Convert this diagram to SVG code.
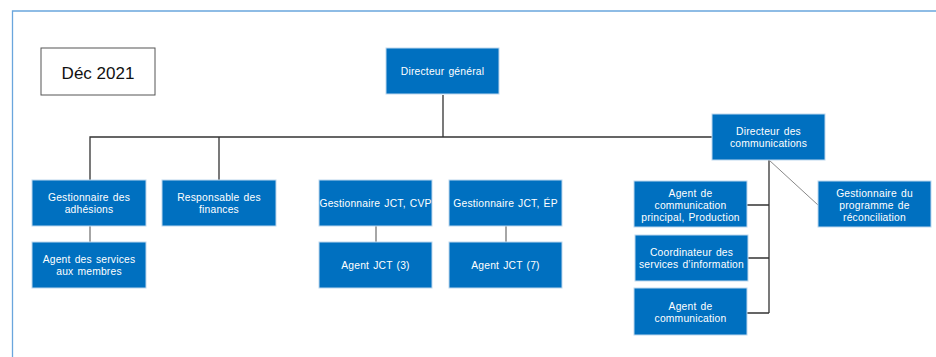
<svg xmlns="http://www.w3.org/2000/svg" width="936" height="357" viewBox="0 0 936 357">
<style>
.box{fill:#0070c0;stroke:#bdd7ee;stroke-width:1}
.t{font-family:"Liberation Sans",Arial,sans-serif;font-size:10.3px;fill:#ffffff;text-anchor:middle;letter-spacing:0.2px;word-spacing:1px}
.ln{stroke:#333333;stroke-width:1.3;fill:none}
.lg{stroke:#777777;stroke-width:1.3;fill:none}
</style>
<rect x="0" y="0" width="936" height="357" fill="#ffffff"/>
<path d="M12.5,360 V11 H940" fill="none" stroke="#6aa6dd" stroke-width="1.3"/>
<g id="date">
<rect x="41" y="48" width="114" height="47" fill="#ffffff" stroke="#555555" stroke-width="1"/>
<text x="98" y="78.5" font-family="'Liberation Sans',Arial,sans-serif" font-size="17" fill="#111111" text-anchor="middle">Déc 2021</text>
</g>
<g id="connectors">
<path class="ln" d="M443,95 V137 M90,180 V137 H712 M219,137 V180"/>
<path class="lg" d="M90,226 V242 M376,226 V242 M506,226 V242"/>
<path class="ln" d="M769,160 V313 M747,205 H769 M748,258 H769 M747,313 H769"/>
<path d="M769,160 L818,205" stroke="#888888" stroke-width="1" fill="none"/>
</g>
<g id="directeur-general">
<rect class="box" x="386" y="48" width="113" height="46"/>
<text class="t" x="442.5" y="75">Directeur général</text>
</g>
<g id="directeur-communications">
<rect class="box" x="712" y="114" width="113" height="46"/>
<text class="t" x="768.5" y="135">Directeur des</text>
<text class="t" x="768.5" y="147">communications</text>
</g>
<g id="gestionnaire-adhesions">
<rect class="box" x="32" y="180" width="114" height="46"/>
<text class="t" x="89" y="201">Gestionnaire des</text>
<text class="t" x="89" y="213">adhésions</text>
</g>
<g id="responsable-finances">
<rect class="box" x="162" y="180" width="114" height="46"/>
<text class="t" x="219" y="201">Responsable des</text>
<text class="t" x="219" y="213">finances</text>
</g>
<g id="gestionnaire-jct-cvp">
<rect class="box" x="319" y="180" width="113" height="46"/>
<text class="t" x="375.5" y="207">Gestionnaire JCT, CVP</text>
</g>
<g id="gestionnaire-jct-ep">
<rect class="box" x="449" y="180" width="113" height="46"/>
<text class="t" x="505.5" y="207">Gestionnaire JCT, ÉP</text>
</g>
<g id="agent-services-membres">
<rect class="box" x="32" y="242" width="114" height="46"/>
<text class="t" x="89" y="263">Agent des services</text>
<text class="t" x="89" y="275">aux membres</text>
</g>
<g id="agent-jct-3">
<rect class="box" x="319" y="242" width="113" height="46"/>
<text class="t" x="375.5" y="269">Agent JCT (3)</text>
</g>
<g id="agent-jct-7">
<rect class="box" x="449" y="242" width="113" height="46"/>
<text class="t" x="505.5" y="269">Agent JCT (7)</text>
</g>
<g id="agent-communication-principal">
<rect class="box" x="634" y="181" width="113" height="46"/>
<text class="t" x="690.5" y="197">Agent de</text>
<text class="t" x="690.5" y="209">communication</text>
<text class="t" x="690.5" y="221">principal, Production</text>
</g>
<g id="coordinateur-services-information">
<rect class="box" x="635" y="235" width="113" height="46"/>
<text class="t" x="691.5" y="255.5">Coordinateur des</text>
<text class="t" x="691.5" y="267.5">services d’information</text>
</g>
<g id="agent-communication">
<rect class="box" x="634" y="288" width="113" height="47"/>
<text class="t" x="690.5" y="309.5">Agent de</text>
<text class="t" x="690.5" y="321.5">communication</text>
</g>
<g id="gestionnaire-programme-reconciliation">
<rect class="box" x="818" y="181" width="113" height="46"/>
<text class="t" x="874.5" y="197">Gestionnaire du</text>
<text class="t" x="874.5" y="209">programme de</text>
<text class="t" x="874.5" y="221">réconciliation</text>
</g>
</svg>
